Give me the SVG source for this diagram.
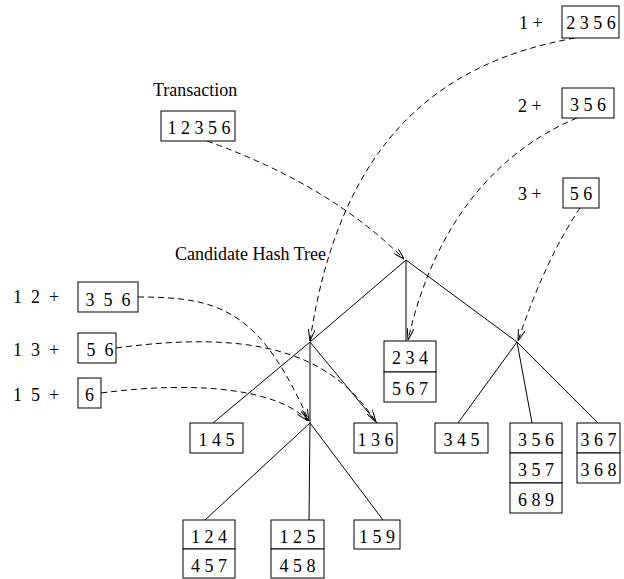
<svg xmlns="http://www.w3.org/2000/svg" width="624" height="579" viewBox="0 0 624 579">
<style>
text{font-family:"Liberation Serif","Times New Roman",serif;font-size:18px;fill:#000}
.c{text-anchor:middle}
.box{fill:#fff;stroke:#000;stroke-width:1}
.edge{stroke:#000;stroke-width:1;fill:none}
.dash{stroke:#000;stroke-width:1;fill:none;stroke-dasharray:6,4;marker-end:url(#ah)}
</style>
<defs>
<marker id="ah" viewBox="0 0 12 7" refX="12" refY="3.5" markerWidth="12" markerHeight="7" orient="auto" markerUnits="userSpaceOnUse">
<path d="M0,0 L12,3.5 L0,7" fill="none" stroke="#000" stroke-width="1"/>
</marker>
</defs>
<rect width="624" height="579" fill="#fff"/>

<g id="connectors">
<line class="edge" x1="406" y1="260" x2="310" y2="342"/>
<line class="edge" x1="406" y1="260" x2="406" y2="341"/>
<line class="edge" x1="406" y1="260" x2="517" y2="342"/>
<line class="edge" x1="310" y1="342" x2="213" y2="423"/>
<line class="edge" x1="310" y1="342" x2="310" y2="423"/>
<line class="edge" x1="310" y1="342" x2="377" y2="423"/>
<line class="edge" x1="310" y1="423" x2="205" y2="520"/>
<line class="edge" x1="310" y1="423" x2="309" y2="520"/>
<line class="edge" x1="310" y1="423" x2="383" y2="520"/>
<line class="edge" x1="517" y1="342" x2="458" y2="423"/>
<line class="edge" x1="517" y1="342" x2="532" y2="423"/>
<line class="edge" x1="517" y1="342" x2="598" y2="423"/>
<path class="dash" d="M207,141 Q330,185 404,259"/>
<path class="dash" d="M575,38 C440,62 340,140 310,341"/>
<path class="dash" d="M577,118 C500,150 435,220 408,340"/>
<path class="dash" d="M580,208 Q545,260 518,341"/>
<path class="dash" d="M138,297 C220,297 260,310 309,421"/>
<path class="dash" d="M116,348 C250,330 330,350 376,422"/>
<path class="dash" d="M101,393 C200,380 280,390 308,421"/>
</g>

<g id="label-transaction"><text x="153" y="96">Transaction</text></g>
<g id="label-tree"><text x="175" y="260">Candidate Hash Tree</text></g>

<g id="transaction">
<rect class="box" x="161" y="111" width="74" height="30"/>
<text class="c" x="199" y="134">1 2 3 5 6</text>
</g>

<g id="sub1">
<text x="519" y="29">1 +</text>
<rect class="box" x="562" y="6" width="57" height="32"/>
<text class="c" x="591" y="29">2 3 5 6</text>
</g>
<g id="sub2">
<text x="518" y="112">2 +</text>
<rect class="box" x="562" y="88" width="52" height="30"/>
<text class="c" x="588" y="111">3 5 6</text>
</g>
<g id="sub3">
<text x="518" y="200">3 +</text>
<rect class="box" x="563" y="178" width="36" height="30"/>
<text class="c" x="581" y="200">5 6</text>
</g>

<g id="sub12">
<text x="13" y="303" xml:space="preserve">1  2  +</text>
<rect class="box" x="78" y="282" width="60" height="30"/>
<text class="c" x="108" y="306" xml:space="preserve">3  5  6</text>
</g>
<g id="sub13">
<text x="13" y="356" xml:space="preserve">1  3  +</text>
<rect class="box" x="78" y="333" width="38" height="30"/>
<text class="c" x="100" y="356" xml:space="preserve">5  6</text>
</g>
<g id="sub15">
<text x="13" y="401" xml:space="preserve">1  5  +</text>
<rect class="box" x="78" y="378" width="23" height="30"/>
<text class="c" x="89.5" y="401">6</text>
</g>

<g id="leaf-234">
<rect class="box" x="384" y="341" width="52" height="31"/>
<rect class="box" x="384" y="372" width="52" height="30"/>
<text class="c" x="410" y="364">2 3 4</text>
<text class="c" x="410" y="395">5 6 7</text>
</g>
<g id="leaf-145">
<rect class="box" x="190" y="423" width="53" height="30"/>
<text class="c" x="216.5" y="446">1 4 5</text>
</g>
<g id="leaf-136">
<rect class="box" x="354" y="423" width="43" height="30"/>
<text class="c" x="375.5" y="446">1 3 6</text>
</g>
<g id="leaf-124">
<rect class="box" x="183" y="520" width="52" height="29"/>
<rect class="box" x="183" y="549" width="52" height="29"/>
<text class="c" x="209" y="543">1 2 4</text>
<text class="c" x="209" y="572">4 5 7</text>
</g>
<g id="leaf-125">
<rect class="box" x="271" y="520" width="53" height="29"/>
<rect class="box" x="271" y="549" width="53" height="29"/>
<text class="c" x="297.5" y="543">1 2 5</text>
<text class="c" x="297.5" y="572">4 5 8</text>
</g>
<g id="leaf-159">
<rect class="box" x="354" y="520" width="46" height="29"/>
<text class="c" x="377" y="543">1 5 9</text>
</g>
<g id="leaf-345">
<rect class="box" x="435" y="423" width="53" height="30"/>
<text class="c" x="461.5" y="446">3 4 5</text>
</g>
<g id="leaf-356">
<rect class="box" x="510" y="423" width="52" height="30"/>
<rect class="box" x="510" y="453" width="52" height="30"/>
<rect class="box" x="510" y="483" width="52" height="30"/>
<text class="c" x="536" y="446">3 5 6</text>
<text class="c" x="536" y="476">3 5 7</text>
<text class="c" x="536" y="506">6 8 9</text>
</g>
<g id="leaf-367">
<rect class="box" x="577" y="423" width="43" height="30"/>
<rect class="box" x="577" y="453" width="43" height="30"/>
<text class="c" x="598.5" y="446">3 6 7</text>
<text class="c" x="598.5" y="476">3 6 8</text>
</g>
</svg>
